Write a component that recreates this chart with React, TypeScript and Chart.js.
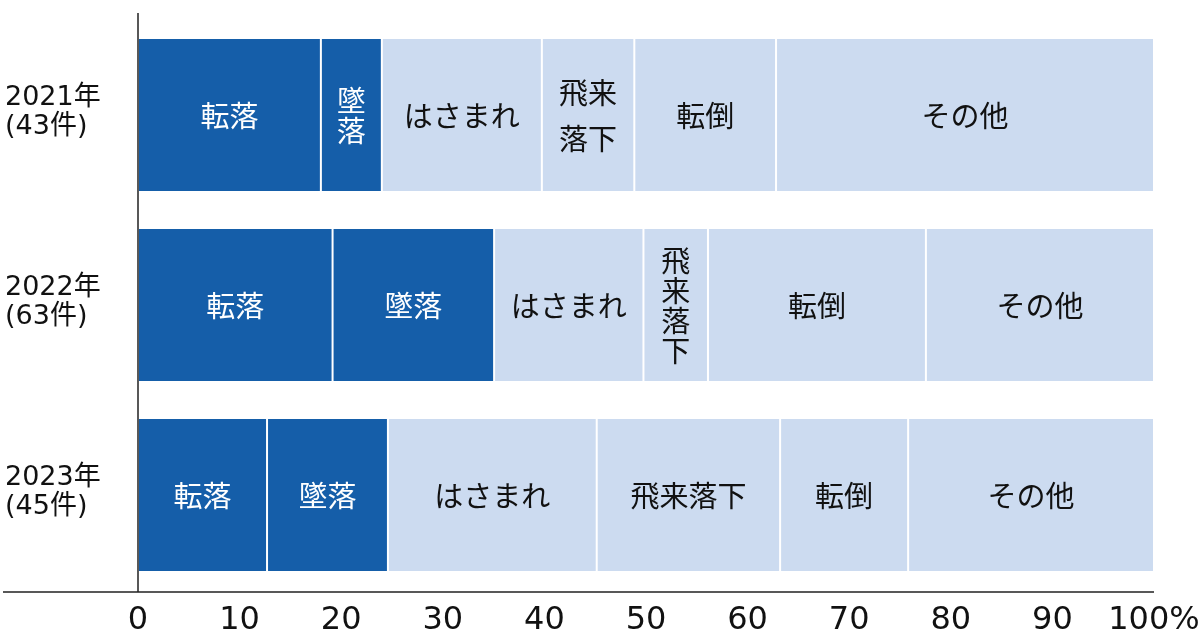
import React, { useEffect, useRef } from "react";
import { Chart, registerables } from "chart.js";

Chart.register(...registerables);

// Data
const years = ["2021年", "2022年", "2023年"];
const caseCounts = ["(43件)", "(63件)", "(45件)"];
const causes = ["転落", "墜落", "はさまれ", "飛来落下", "転倒", "その他"];

const share2021 = [18.0, 6.0, 15.75, 9.1, 13.95, 37.2];
const share2022 = [19.15, 15.9, 14.7, 6.35, 21.45, 22.45];
const share2023 = [12.7, 11.9, 20.55, 18.05, 12.6, 24.2];

// how each segment label is broken into lines
const lines2021 = [["転落"], ["墜", "落"], ["はさまれ"], ["飛来", "落下"], ["転倒"], ["その他"]];
const lines2022 = [["転落"], ["墜落"], ["はさまれ"], ["飛", "来", "落", "下"], ["転倒"], ["その他"]];
const lines2023 = [["転落"], ["墜落"], ["はさまれ"], ["飛来落下"], ["転倒"], ["その他"]];

const xTicks = [0, 10, 20, 30, 40, 50, 60, 70, 80, 90, 100];

const DARK = "#155ea9";
const LIGHT = "#ccdbf0";
const FONT = '"DejaVu Sans", "Noto Sans CJK JP", sans-serif';

const segLines = [lines2021, lines2022, lines2023];

const labelPlugin = {
  id: "segLabels",
  afterDatasetsDraw(chart: any) {
    const { ctx } = chart;
    ctx.save();
    ctx.font = `29px ${FONT}`;
    ctx.textAlign = "center";
    ctx.textBaseline = "middle";
    chart.data.datasets.forEach((ds: any, i: number) => {
      const meta = chart.getDatasetMeta(i);
      meta.data.forEach((bar: any, j: number) => {
        const lines = segLines[j][i];
        const lh = lines.length === 2 && lines[0].length > 1 ? 46 : 30;
        const cx = (bar.x + bar.base) / 2;
        const cy = bar.y + 4 - ((lines.length - 1) * lh) / 2;
        ctx.fillStyle = i < 2 ? "#ffffff" : "#111111";
        lines.forEach((t: string, k: number) => ctx.fillText(t, cx, cy + k * lh));
      });
    });
    ctx.restore();
  },
};

const axisPlugin = {
  id: "axisLines",
  afterDraw(chart: any) {
    const { ctx, chartArea } = chart;
    const meta = chart.getDatasetMeta(0);
    ctx.save();
    ctx.strokeStyle = "#222";
    ctx.lineWidth = 1.5;
    ctx.beginPath();
    ctx.moveTo(chartArea.left, chartArea.top - 7);
    ctx.lineTo(chartArea.left, chartArea.bottom + 2);
    ctx.moveTo(3, chartArea.bottom + 2);
    ctx.lineTo(chartArea.right, chartArea.bottom + 2);
    ctx.stroke();

    // year labels on the left
    ctx.font = `27px ${FONT}`;
    ctx.fillStyle = "#111";
    ctx.textAlign = "left";
    ctx.textBaseline = "middle";
    meta.data.forEach((bar: any, j: number) => {
      ctx.fillText(years[j], 5, bar.y - 17);
      ctx.fillText(caseCounts[j], 5, bar.y + 12);
    });
    ctx.restore();
  },
};

const App: React.FC = () => {
  const chartRef = useRef<HTMLCanvasElement>(null);
  const chartInstance = useRef<Chart | null>(null);

  useEffect(() => {
    document.body.style.margin = "0";
    if (!chartRef.current) return;
    if (chartInstance.current) chartInstance.current.destroy();

    const shares = [share2021, share2022, share2023];

    chartInstance.current = new Chart(chartRef.current, {
      type: "bar",
      data: {
        labels: years,
        datasets: causes.map((c, i) => ({
          label: c,
          data: shares.map((s) => s[i]),
          backgroundColor: i < 2 ? DARK : LIGHT,
          borderColor: "#ffffff",
          borderWidth: { left: 1, right: 1, top: 0, bottom: 0 },
          borderSkipped: false,
          barPercentage: 0.8,
          categoryPercentage: 1,
        })),
      },
      options: {
        indexAxis: "y",
        responsive: true,
        maintainAspectRatio: false,
        animation: false,
        layout: { padding: { left: 138, right: 46, top: 20, bottom: 0 } },
        scales: {
          x: {
            stacked: true,
            min: 0,
            max: 100,
            afterFit: (scale: any) => {
              scale.height = 46;
              scale.paddingLeft = 0;
              scale.paddingRight = 0;
            },
            afterBuildTicks: (scale: any) => {
              scale.ticks = xTicks.map((v) => ({ value: v }));
            },
            grid: { display: false },
            border: { display: false },
            ticks: {
              color: "#111",
              padding: 3,
              maxRotation: 0,
              font: { size: 32, family: FONT },
              callback: (v: any) => (v === 100 ? "100%" : String(v)),
            },
          },
          y: {
            stacked: true,
            display: false,
          },
        },
        plugins: {
          legend: { display: false },
          tooltip: { enabled: false },
        },
      },
      plugins: [labelPlugin, axisPlugin],
    });

    return () => {
      if (chartInstance.current) {
        chartInstance.current.destroy();
        chartInstance.current = null;
      }
    };
  }, []);

  return (
    <div style={{ position: "relative", width: "1200px", height: "636px" }}>
      <canvas ref={chartRef} />
    </div>
  );
};

export default App;
